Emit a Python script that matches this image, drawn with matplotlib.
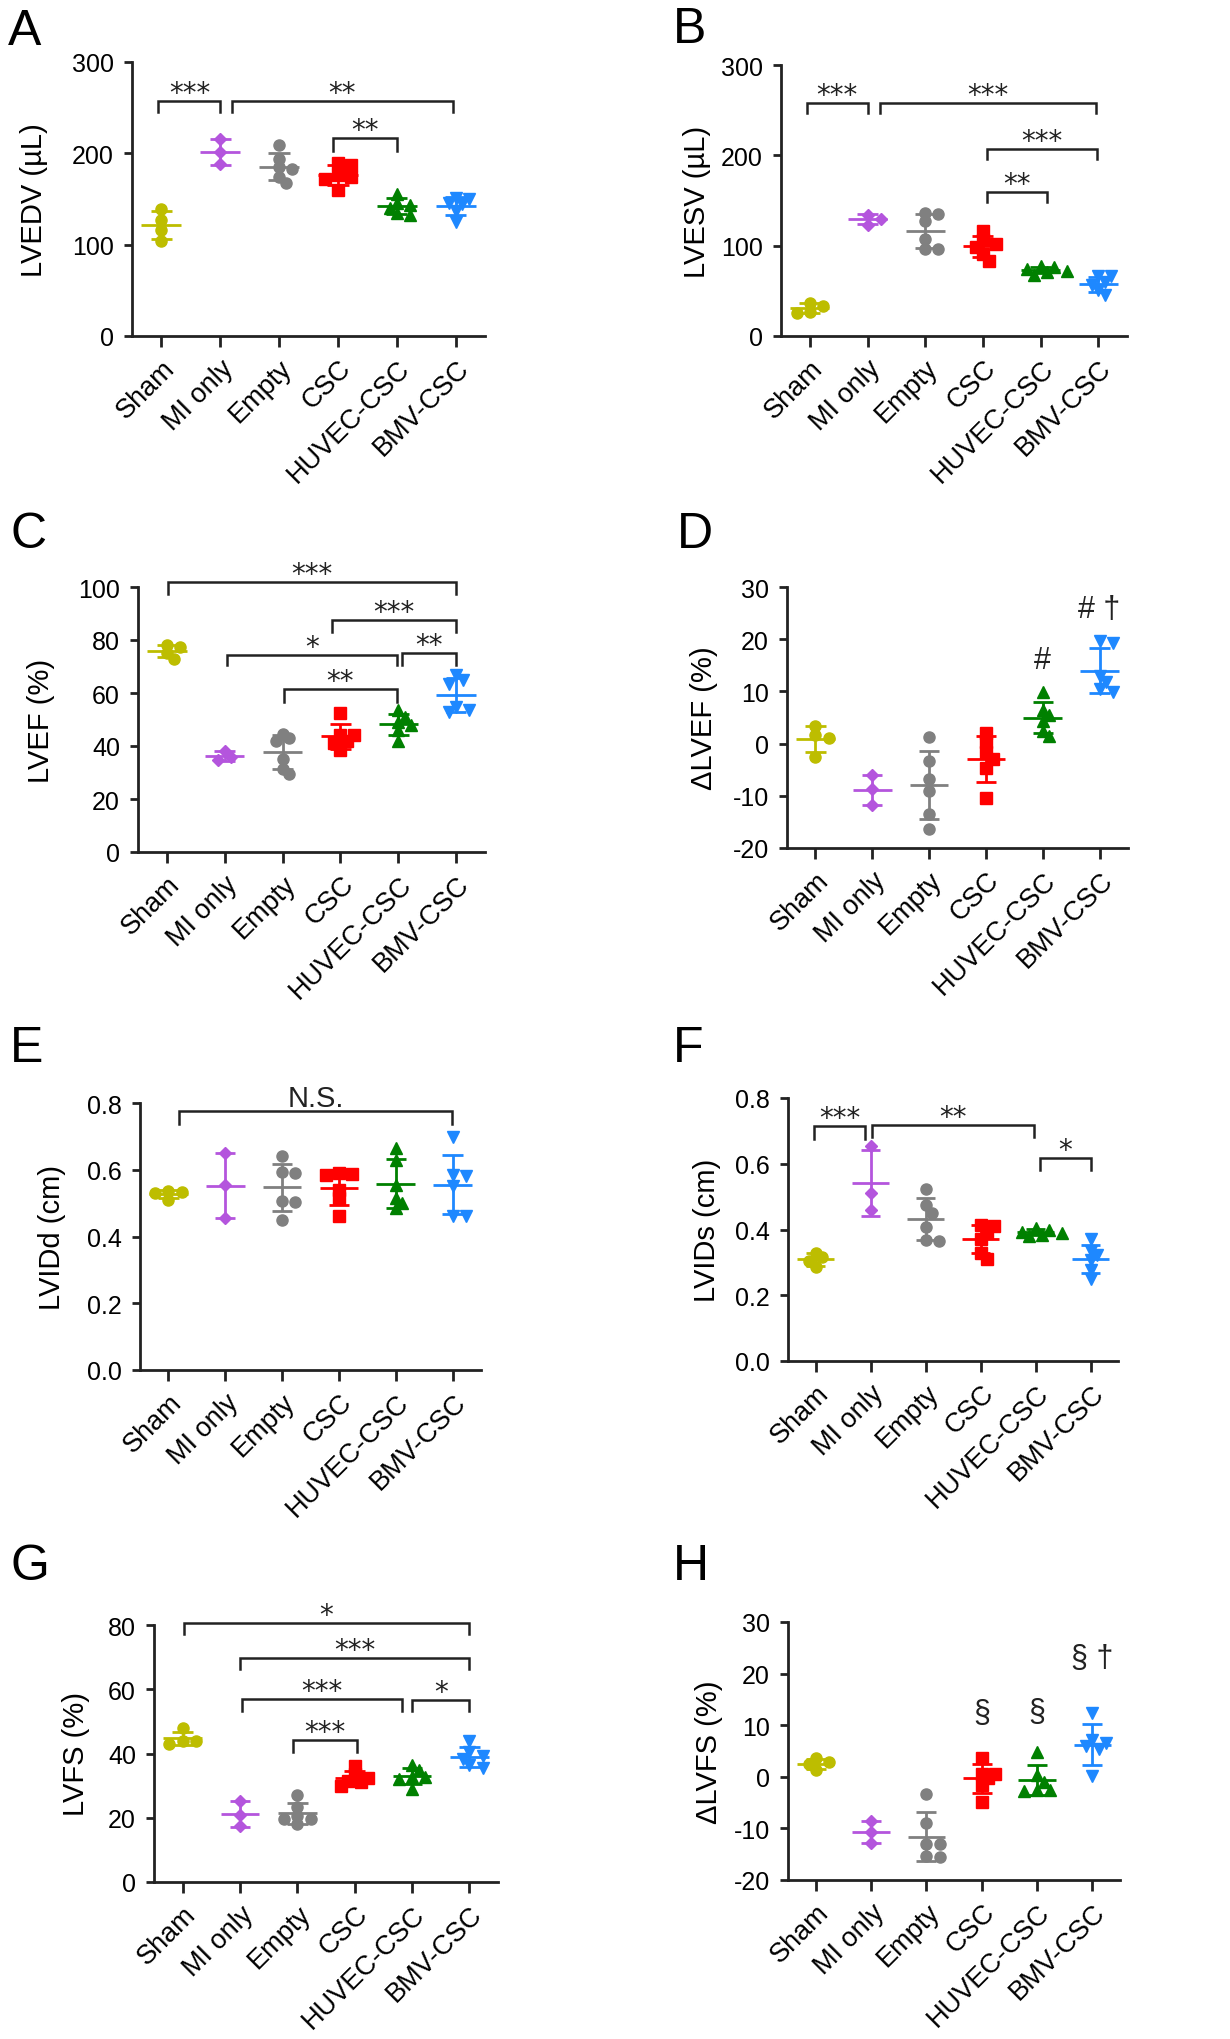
import numpy as np
import matplotlib
matplotlib.use('Agg')
import matplotlib.pyplot as plt
import matplotlib.transforms as mtrans

plt.rcParams['font.family'] = ['Liberation Sans', 'DejaVu Sans']

# ---------------- data ----------------
groups = ['Sham', 'MI only', 'Empty', 'CSC', 'HUVEC-CSC', 'BMV-CSC']
colors = ['#BDBD00', '#B455DD', '#808080', '#FF0000', '#008000', '#1E88FF']
markers = ['o', 'D', 'o', 's', '^', 'v']

lvedv = [[139, 127, 116, 104], [216, 201, 188],
         [209.5, 194, 185, 183, 174, 167.5], [189, 187, 176, 174, 172, 160],
         [156, 146, 143, 140, 135, 132], [151, 150, 146, 144, 137, 125]]
lvesv = [[37, 33, 27, 25], [134, 130, 123],
         [136, 135, 127, 107, 96, 96], [116, 106, 102, 98, 91, 83],
         [78, 76, 74, 72, 71, 68], [66, 66, 60, 56, 51, 45]]
lvef = [[78, 77.5, 75, 73], [38.1, 35.8, 34.6],
        [44.7, 43, 41.8, 35.2, 31.4, 29.6], [52.5, 44, 44, 42, 41, 38.5],
        [53.5, 51, 49, 48, 46, 42], [66.7, 64.8, 63.5, 54.7, 53.5, 52.8]]
dlvef = [[3.3, 1.7, 1.0, -2.6], [-6.1, -8.7, -11.8],
         [1.3, -3.4, -6.7, -9.1, -13.4, -16.3], [2.0, 0.3, -1.6, -3.0, -4.7, -10.5],
         [9.8, 6.4, 5.4, 4.3, 2.4, 1.5], [19.6, 19.2, 13.0, 11.8, 10.5, 9.8]]
lvidd = [[0.535, 0.533, 0.530, 0.510], [0.65, 0.553, 0.455],
         [0.64, 0.59, 0.593, 0.505, 0.503, 0.45], [0.59, 0.588, 0.585, 0.54, 0.515, 0.46],
         [0.665, 0.628, 0.555, 0.515, 0.501, 0.485], [0.698, 0.585, 0.58, 0.55, 0.46, 0.46]]
lvids = [[0.33, 0.315, 0.305, 0.285], [0.654, 0.512, 0.458],
         [0.524, 0.474, 0.451, 0.408, 0.364, 0.367], [0.413, 0.41, 0.39, 0.37, 0.33, 0.31],
         [0.405, 0.398, 0.393, 0.388, 0.383, 0.38], [0.372, 0.334, 0.321, 0.306, 0.276, 0.25]]
lvfs = [[47.8, 44, 44, 42.9], [25.2, 20.9, 17.3],
        [27.2, 23.3, 20.7, 19.7, 19.5, 17.9], [36.2, 33.5, 32.5, 31.5, 31, 30],
        [36.4, 35, 32.6, 32.6, 32, 29], [44, 40.4, 39.3, 38.3, 36.4, 35.4]]
dlvfs = [[3.6, 2.9, 2.4, 1.3], [-8.6, -10.7, -12.8],
         [-3.4, -8.9, -13.1, -13.1, -15.4, -15.6], [3.7, 0.6, 0.5, -0.3, -1.5, -4.8],
         [4.8, 0.3, -1.0, -2.5, -2.6, -2.7], [12.4, 7.2, 6.6, 5.9, 5.3, 0.1]]

ylabels = ['LVEDV (\u00b5L)', 'LVESV (\u00b5L)', 'LVEF (%)', '\u0394LVEF (%)',
           'LVIDd (cm)', 'LVIDs (cm)', 'LVFS (%)', '\u0394LVFS (%)']
letters = ['A', 'B', 'C', 'D', 'E', 'F', 'G', 'H']
yticks_list = [[0, 100, 200, 300], [0, 100, 200, 300], [0, 20, 40, 60, 80, 100],
               [-20, -10, 0, 10, 20, 30], [0.0, 0.2, 0.4, 0.6, 0.8],
               [0.0, 0.2, 0.4, 0.6, 0.8], [0, 20, 40, 60, 80], [-20, -10, 0, 10, 20, 30]]

# brackets: (x1, x2, y_top, y_leg_end, label)
brackets = [
    [(-0.05, 1.0, 257, 245, '***'), (1.2, 4.95, 257, 245, '**'), (2.92, 4.0, 217, 203, '**')],
    [(-0.05, 1.0, 258, 247, '***'), (1.22, 4.97, 258, 247, '***'),
     (3.08, 4.98, 207, 196, '***'), (3.08, 4.12, 159, 148, '**')],
    [(0.02, 5.0, 101.9, 97.5, '***'), (2.86, 5.0, 87.7, 83, '***'), (1.04, 3.98, 74.5, 70.4, '*'),
     (4.06, 5.0, 75, 70.4, '**'), (2.02, 3.98, 61.4, 56.6, '**')],
    [],
    [(0.18, 4.99, 0.775, 0.738, 'N.S.')],
    [(-0.02, 0.9, 0.714, 0.676, '***'), (1.03, 3.97, 0.719, 0.68, '**'), (4.09, 5.0, 0.618, 0.58, '*')],
    [(0.02, 5.0, 80.7, 77.1, '*'), (1.0, 5.0, 69.6, 66.3, '***'), (1.03, 3.82, 57.1, 53.3, '***'),
     (4.0, 5.0, 56.6, 53.3, '*'), (1.92, 3.04, 44.2, 40.6, '***')],
    [],
]
# symbol annotations: (x, y, label)
symbols = [[], [], [], [(4, 16.0, '#'), (5, 25.7, '# \u2020')], [], [], [],
           [(3, 12.3, '\u00a7'), (4, 12.5, '\u00a7'), (5, 23.1, '\u00a7 \u2020')]]

datasets = [lvedv, lvesv, lvef, dlvef, lvidd, lvids, lvfs, dlvfs]

# ---------------- layout (pixels) ----------------
W, H = 1230, 2040
rects = [(132, 485, 63, 337), (781, 1127, 66, 337),
         (138, 485, 588, 853), (787, 1128, 588, 849),
         (140, 481, 1104, 1371), (788, 1118, 1099, 1362),
         (154, 498, 1626, 1883), (788, 1120, 1623, 1881)]
ylabel_x = [34, 697, 41, 704, 52, 707, 76, 709]
letter_pos = [(8, 45), (673, 43), (10, 548), (677, 548), (10, 1062), (673, 1062), (10, 1580), (673, 1580)]

fig = plt.figure(figsize=(W / 100, H / 100), dpi=100)


def swarm_offsets(vals, px_x, px_y, diam):
    vals = np.asarray(vals, float)
    order = np.argsort(-vals)
    placed = []
    offs = np.zeros(len(vals))
    cands = [0]
    for k in range(1, 8):
        cands += [k, -k]
    for i in order:
        yp = vals[i] * px_y
        for c in cands:
            xp = c * diam * 0.6
            ok = all((xp - a) ** 2 + (yp - b) ** 2 >= (0.7 * diam) ** 2 for a, b in placed)
            if ok:
                break
        placed.append((xp, yp))
        offs[i] = xp / px_x
    return offs


msz = {'o': 8.0, 'D': 6.5, 's': 8.0, '^': 9.0, 'v': 9.0}
dark = '#222222'
label_shift = mtrans.ScaledTranslation(0 / 100, 0, fig.dpi_scale_trans)

for p in range(8):
    l, r, t, b = rects[p]
    ax = fig.add_axes([l / W, 1 - b / H, (r - l) / W, (b - t) / H])
    yt = yticks_list[p]
    ymin, ymax = yt[0], yt[-1]
    ax.set_xlim(-0.5, 5.5)
    ax.set_ylim(ymin, ymax)
    px_x = (r - l) / 6.0
    px_y = (b - t) / (ymax - ymin)
    data = datasets[p]
    for g in range(6):
        vals = np.asarray(data[g], float)
        m = markers[g]
        offs = swarm_offsets(vals, px_x, px_y, 11.0)
        ax.plot(g + offs, vals, linestyle='none', marker=m, ms=msz[m],
                color=colors[g], mec=colors[g], zorder=3, clip_on=False)
        mean = vals.mean()
        sd = vals.std(ddof=1)
        ax.hlines(mean, g - 0.34, g + 0.34, color=colors[g], lw=2.0, zorder=4)
        ax.vlines(g, mean - sd, mean + sd, color=colors[g], lw=2.0, zorder=4)
        ax.hlines([mean - sd, mean + sd], g - 0.18, g + 0.18, color=colors[g], lw=2.0, zorder=4)

    for (x1, x2, yt_, yl, lab) in brackets[p]:
        ax.plot([x1, x1, x2, x2], [yl, yt_, yt_, yl], color=dark, lw=1.8,
                clip_on=False, zorder=5, solid_joinstyle='miter')
        if lab == 'N.S.':
            ax.annotate(lab, xy=((x1 + x2) / 2, yt_), xytext=(0, 4), textcoords='offset points',
                        ha='center', va='baseline', fontsize=21, color=dark,
                        annotation_clip=False)
        else:
            ax.annotate(lab, xy=((x1 + x2) / 2, yt_), xytext=(0, 0), textcoords='offset points',
                        ha='center', va='baseline', fontsize=20, color=dark,
                        family=['DejaVu Sans'], annotation_clip=False)
    for (x, y, lab) in symbols[p]:
        ax.text(x, y, lab, ha='center', va='center', fontsize=22, color=dark)

    for s in ['top', 'right']:
        ax.spines[s].set_visible(False)
    for s in ['left', 'bottom']:
        ax.spines[s].set_linewidth(2.0)
        ax.spines[s].set_color(dark)
    ax.set_yticks(yt)
    if isinstance(yt[1], float):
        ax.set_yticklabels(['%.1f' % v for v in yt])
    else:
        ax.set_yticklabels([str(v) for v in yt])
    ax.set_xticks(range(6))
    ax.set_xticklabels(groups, rotation=45, ha='right', va='top', rotation_mode='anchor')
    ax.tick_params(axis='y', labelsize=18, length=6, width=2.0, pad=7, color=dark)
    ax.tick_params(axis='x', labelsize=19.5, length=8, width=2.0, pad=5.5, color=dark)
    for lab in ax.get_xticklabels():
        lab.set_transform(lab.get_transform() + label_shift)
    ax.set_ylabel(ylabels[p], fontsize=21, va='center')
    ax.yaxis.set_label_coords((ylabel_x[p] - l) / (r - l), 0.5)
    ax.patch.set_alpha(0)

    lx, ly = letter_pos[p]
    fig.text(lx / W, 1 - ly / H, letters[p], fontsize=36, ha='left', va='baseline')

fig.savefig('out.png', dpi=100)
